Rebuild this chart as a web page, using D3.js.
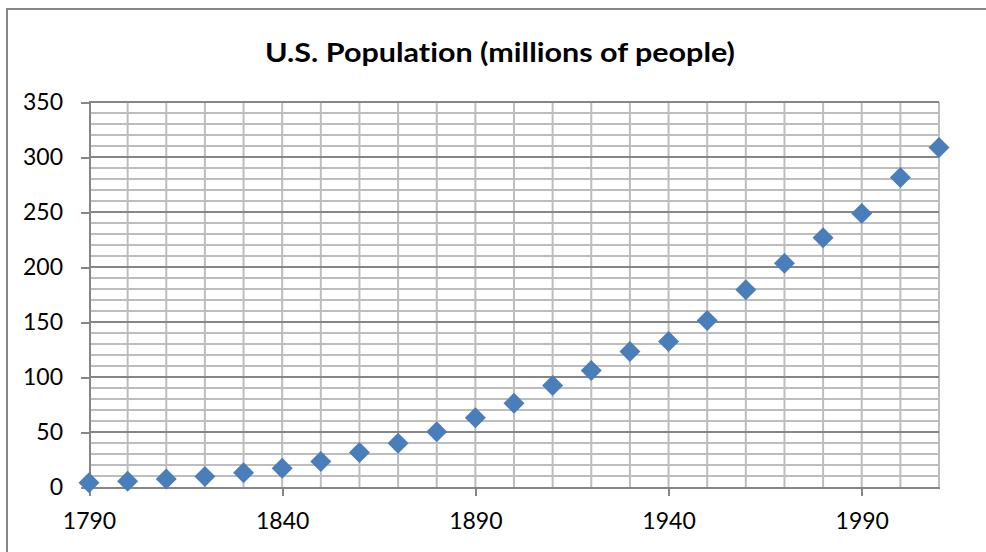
<!DOCTYPE html>
<meta charset="utf-8">
<style>
body { margin: 0; background: white; }
svg { display: block; }
.axis text { font-family: Lato, "Open Sans", Arial, sans-serif; font-size: 23px; fill: #000; }
.axis line, .axis path { stroke: #868686; stroke-width: 2; shape-rendering: crispEdges; }
.title { font-family: Lato, "Open Sans", Arial, sans-serif; font-weight: bold; font-size: 27px;
         font-variant-ligatures: none; font-feature-settings: "liga" 0; }
</style>
<body>
<svg width="986" height="552"></svg>
<script src="https://d3js.org/d3.v7.min.js"></script>
<script>
// census years and population, millions
var years = [1790, 1800, 1810, 1820, 1830, 1840, 1850, 1860, 1870, 1880, 1890, 1900,
             1910, 1920, 1930, 1940, 1950, 1960, 1970, 1980, 1990, 2000, 2010];
var population = [3.9, 5.3, 7.2, 9.6, 12.9, 17.1, 23.2, 31.4, 39.8, 50.2, 63.0, 76.2,
                  92.2, 106.0, 123.2, 132.2, 151.3, 179.3, 203.3, 226.5, 248.7, 281.4, 308.7];
var xTicks = [1790, 1840, 1890, 1940, 1990];
var yTicks = [0, 50, 100, 150, 200, 250, 300, 350];
var xGrid = d3.range(1800, 2011, 10);
var yGrid = d3.range(10, 351, 10);

var svg = d3.select("svg");

var x = d3.scaleLinear().domain([1790, 2010]).range([89, 939]);
var y = d3.scaleLinear().domain([0, 350]).range([487, 102]);

// outer chart frame (runs off the right and bottom)
svg.append("rect")
    .attr("x", 7).attr("y", 9)
    .attr("width", 1000).attr("height", 600)
    .attr("fill", "white")
    .attr("stroke", "#868686")
    .attr("stroke-width", 2);

svg.append("text")
    .attr("class", "title")
    .attr("x", 500)
    .attr("y", 62)
    .attr("text-anchor", "middle")
    .attr("textLength", 470)
    .attr("lengthAdjust", "spacingAndGlyphs")
    .text("U.S. Population (millions of people)");

var grid = svg.append("g");

grid.selectAll(".vgrid")
    .data(xGrid)
  .enter().append("line")
    .attr("x1", function(d) { return x(d); })
    .attr("x2", function(d) { return x(d); })
    .attr("y1", y(350))
    .attr("y2", y(0))
    .attr("stroke", "#bdbdbd")
    .attr("stroke-width", 2);

grid.selectAll(".hgrid")
    .data(yGrid)
  .enter().append("line")
    .attr("x1", x(1790))
    .attr("x2", x(2010))
    .attr("y1", function(d) { return y(d); })
    .attr("y2", function(d) { return y(d); })
    .attr("stroke", function(d) { return d % 50 == 0 ? "#868686" : "#bdbdbd"; })
    .attr("stroke-width", 2);

svg.append("g")
    .attr("class", "axis")
    .attr("transform", "translate(" + x(1790) + ",0)")
    .call(d3.axisLeft(y).tickValues(yTicks).tickSize(8).tickSizeOuter(0).tickPadding(18));

svg.append("g")
    .attr("class", "axis")
    .attr("transform", "translate(0," + y(0) + ")")
    .call(d3.axisBottom(x).tickValues(xTicks).tickSize(9).tickSizeOuter(0).tickPadding(17)
          .tickFormat(d3.format("d")));

var diamond = d3.symbol().type(d3.symbolSquare).size(220);

svg.selectAll(".pt")
    .data(years)
  .enter().append("path")
    .attr("class", "pt")
    .attr("d", diamond)
    .attr("transform", function(d, i) {
        return "translate(" + x(d) + "," + y(population[i]) + ") rotate(45)";
    })
    .attr("fill", "#4a7ebb");
</script>
</body>
